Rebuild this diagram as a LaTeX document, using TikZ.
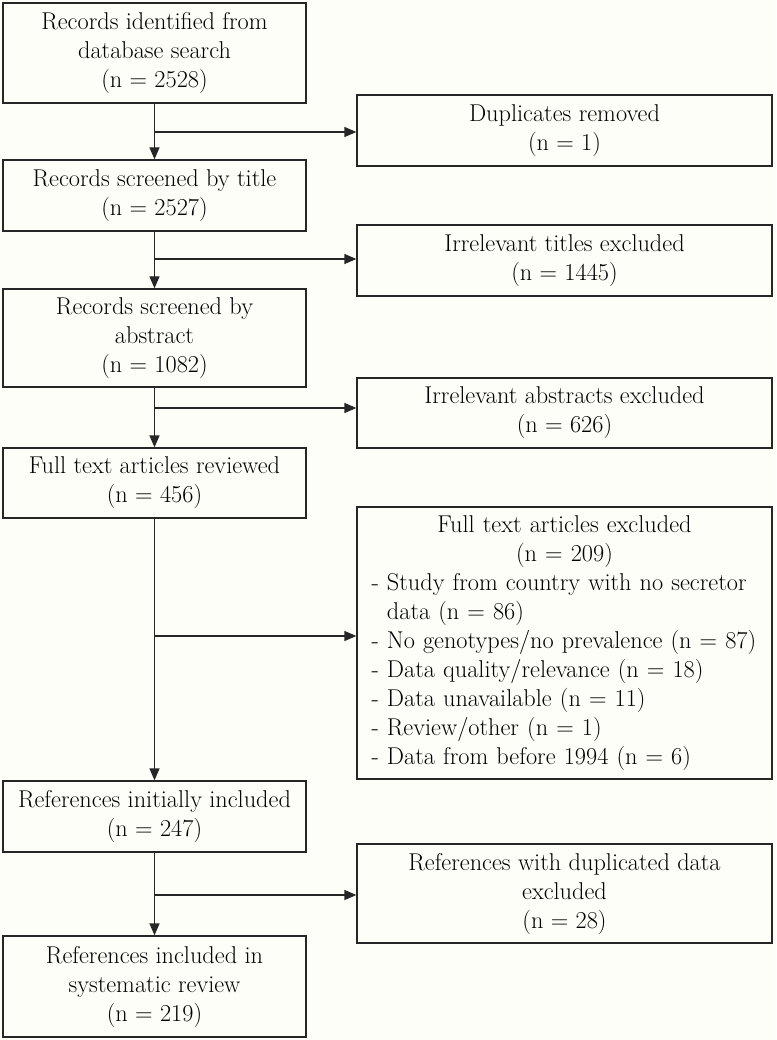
\documentclass[tikz,border=0pt]{standalone}
\usepackage{tikz}
\usetikzlibrary{positioning, arrows.meta}

\begin{document}
\begin{tikzpicture}[
    x=1pt, y=-1pt,
    stagebox/.style={draw=black!85, line width=1.3pt, minimum width=303pt, inner sep=0pt, align=center, font=\fontsize{24.3}{29}\selectfont},
    exclbox/.style={stagebox, minimum width=415pt},
    flow/.style={draw=black!85, line width=1.3pt, -{Triangle[length=12pt, width=10pt]}}
]

    % Define colors
    \definecolor{paper}{RGB}{254, 254, 249}

    % Page background
    \fill[paper] (0,0) rectangle (776,1040);
    \useasboundingbox (0,0) rectangle (776,1040);

    % Main stages (left column)
    \node[stagebox, minimum height=100pt] (ident) at (154.5,53) {Records identified from\\database search\\(n = 2528)};
    \node[stagebox, minimum height=71pt] (bytitle) at (154.5,195.5) {Records screened by title\\(n = 2527)};
    \node[stagebox, minimum height=98pt] (byabstract) at (154.5,338) {Records screened by\\abstract\\(n = 1082)};
    \node[stagebox, minimum height=70pt] (fulltext) at (154.5,483) {Full text articles reviewed\\(n = 456)};
    \node[stagebox, minimum height=71pt] (initial) at (154.5,816.5) {References initially included\\(n = 247)};
    \node[stagebox, minimum height=101pt] (final) at (154.5,986.5) {References included in\\systematic review\\(n = 219)};

    % Exclusions (right column)
    \node[exclbox, minimum height=71pt] (dupl) at (564.5,130.5) {Duplicates removed\\(n = 1)};
    \node[exclbox, minimum height=71pt] (titleout) at (564.5,260.5) {Irrelevant titles excluded\\(n = 1445)};
    \node[exclbox, minimum height=70pt] (abstractout) at (564.5,413) {Irrelevant abstracts excluded\\(n = 626)};
    \node[exclbox, minimum height=272pt, text width=386pt, align=left] (fullout) at (564.5,643) {%
        {\centering Full text articles excluded\\(n = 209)\par}
        - Study from country with no secretor\\\phantom{- }data (n = 86)\\
        - No genotypes/no prevalence (n = 87)\\
        - Data quality/relevance (n = 18)\\
        - Data unavailable (n = 11)\\
        - Review/other (n = 1)\\
        - Data from before 1994 (n = 6)};
    \node[exclbox, minimum height=99pt] (duplout) at (564.5,893.5) {References with duplicated data\\excluded\\(n = 28)};

    % Branch points on the main line
    \coordinate (j1) at (154.5,132);
    \coordinate (j2) at (154.5,259);
    \coordinate (j3) at (154.5,408);
    \coordinate (j4) at (154.5,636);
    \coordinate (j5) at (154.5,895);

    % Main flow
    \draw[flow] (ident) -- (bytitle);
    \draw[flow] (bytitle) -- (byabstract);
    \draw[flow] (byabstract) -- (fulltext);
    \draw[flow] (fulltext) -- (initial);
    \draw[flow] (initial) -- (final);

    % Side arrows to exclusions
    \draw[flow] (j1) -- (j1 -| dupl.west);
    \draw[flow] (j2) -- (j2 -| titleout.west);
    \draw[flow] (j3) -- (j3 -| abstractout.west);
    \draw[flow] (j4) -- (j4 -| fullout.west);
    \draw[flow] (j5) -- (j5 -| duplout.west);

\end{tikzpicture}
\end{document}
